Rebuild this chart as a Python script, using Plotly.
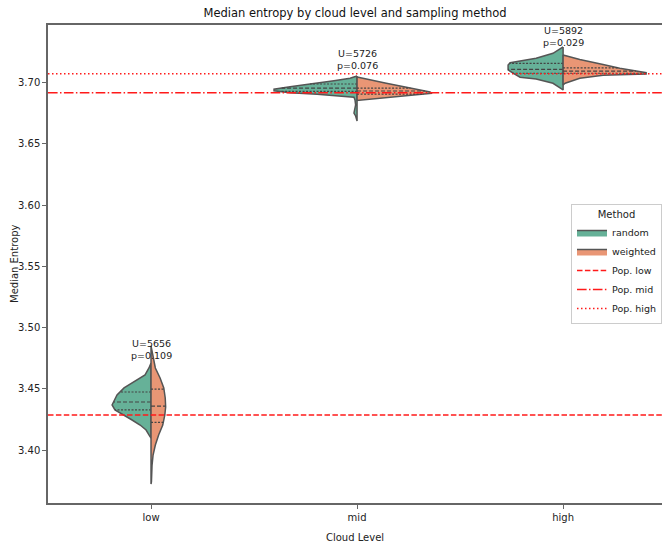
import numpy as np
import plotly.graph_objects as go

# ---------------- data ----------------
categories = ["low", "mid", "high"]
methods = ["random", "weighted"]

# density profiles (entropy value, half-width as fraction of category spacing)
low_random_y = [3.4711, 3.4670, 3.4613, 3.4556, 3.4507, 3.4449, 3.4392, 3.4368, 3.4327, 3.4286, 3.4245, 3.4204, 3.4163, 3.4123, 3.4098]
low_random_w = [0.000, 0.010, 0.029, 0.083, 0.131, 0.165, 0.180, 0.189, 0.175, 0.131, 0.092, 0.053, 0.024, 0.010, 0.000]
low_weighted_y = [3.4850, 3.4833, 3.4752, 3.4670, 3.4588, 3.4507, 3.4425, 3.4351, 3.4286, 3.4204, 3.4123, 3.4041, 3.3959, 3.3877, 3.3739, 3.3722]
low_weighted_w = [0.000, 0.002, 0.010, 0.021, 0.044, 0.062, 0.069, 0.071, 0.067, 0.057, 0.037, 0.021, 0.010, 0.005, 0.002, 0.000]

mid_random_y = [3.7056, 3.7037, 3.7017, 3.7001, 3.6990, 3.6968, 3.6947, 3.6935, 3.6919, 3.6906, 3.6892, 3.6882, 3.6860, 3.6819, 3.6778, 3.6753, 3.6729, 3.6696, 3.6688]
mid_random_w = [0.000, 0.034, 0.112, 0.194, 0.228, 0.325, 0.403, 0.403, 0.325, 0.194, 0.063, 0.015, 0.010, 0.007, 0.012, 0.015, 0.007, 0.002, 0.000]
mid_weighted_y = [3.7047, 3.7023, 3.6998, 3.6974, 3.6949, 3.6925, 3.6914, 3.6900, 3.6884, 3.6868, 3.6855]
mid_weighted_w = [0.000, 0.063, 0.136, 0.209, 0.282, 0.354, 0.364, 0.272, 0.165, 0.053, 0.000]

high_random_y = [3.7293, 3.7282, 3.7241, 3.7200, 3.7181, 3.7164, 3.7145, 3.7105, 3.7078, 3.7045, 3.7031, 3.6996, 3.6958, 3.6941]
high_random_w = [0.000, 0.010, 0.049, 0.131, 0.209, 0.257, 0.267, 0.267, 0.243, 0.209, 0.131, 0.049, 0.015, 0.000]
high_weighted_y = [3.7227, 3.7190, 3.7149, 3.7118, 3.7082, 3.7072, 3.7066, 3.7061, 3.7037, 3.6996, 3.6982]
high_weighted_w = [0.000, 0.081, 0.194, 0.275, 0.403, 0.403, 0.275, 0.194, 0.081, 0.010, 0.000]

# quartiles (Q3, median, Q1)
low_random_q = [3.4474, 3.4392, 3.4327]
low_weighted_q = [3.4498, 3.4359, 3.4225]
mid_random_q = [3.6990, 3.6957, 3.6929]
mid_weighted_q = [3.6957, 3.6933, 3.6908]
high_random_q = [3.7159, 3.7110, 3.7078]
high_weighted_q = [3.7121, 3.7096, 3.7078]

# Mann-Whitney results
u_stats = [5656, 5726, 5892]
p_values = [0.109, 0.076, 0.029]

# population medians
pop_labels = ["Pop. low", "Pop. mid", "Pop. high"]
pop_values = [3.4286, 3.6918, 3.7074]

# --------------- styling ---------------
colors = {"random": "#66b198", "weighted": "#e99675"}
edge = "#555555"
font_family = "DejaVu Sans, Arial, sans-serif"
W, H = 662, 546
ML, MT, MB = 48, 25, 43
x_range = [-0.5, 2.48]
y_range = [3.3567, 3.7472]
label_y = [3.4722, 3.7085, 3.7272]
pop_dash = ["5.5px,2.4px", "9.6px,2.4px,1.5px,2.4px", "1.5px,2.5px"]

profiles = {
    ("low", "random"): (low_random_y, low_random_w, low_random_q),
    ("low", "weighted"): (low_weighted_y, low_weighted_w, low_weighted_q),
    ("mid", "random"): (mid_random_y, mid_random_w, mid_random_q),
    ("mid", "weighted"): (mid_weighted_y, mid_weighted_w, mid_weighted_q),
    ("high", "random"): (high_random_y, high_random_w, high_random_q),
    ("high", "weighted"): (high_weighted_y, high_weighted_w, high_weighted_q),
}

fig = go.Figure()

for m in methods:
    sign = -1 if m == "random" else 1
    for ci, cat in enumerate(categories):
        ys, ws, qs = profiles[(cat, m)]
        ys = np.array(ys)
        ws = np.array(ws)
        xs = ci + sign * ws
        px = list(xs) + [ci, ci]
        py = list(ys) + [ys[-1], ys[0]]
        fig.add_trace(go.Scatter(
            x=px, y=py, mode="lines", fill="toself",
            fillcolor=colors[m], line=dict(color=edge, width=1.5),
            name=m, legendgroup=m, showlegend=(ci == 0),
            hoverinfo="skip",
        ))
        order = np.argsort(ys)
        for qi, q in enumerate(qs):
            w = float(np.interp(q, ys[order], ws[order]))
            fig.add_trace(go.Scatter(
                x=[ci, ci + sign * w], y=[q, q], mode="lines",
                line=dict(color="#444", width=1.2,
                          dash="4px,2px" if qi == 1 else "2px,1.5px"),
                showlegend=False, hoverinfo="skip",
            ))

for lab, val, dash in zip(pop_labels, pop_values, pop_dash):
    fig.add_trace(go.Scatter(
        x=x_range, y=[val, val], mode="lines",
        line=dict(color="#ff1a1a", width=1.6, dash=dash),
        name=lab, hoverinfo="skip",
    ))

for ci, cat in enumerate(categories):
    fig.add_annotation(
        x=ci, y=label_y[ci], xref="x", yref="y",
        text=f"U={u_stats[ci]}<br>p={p_values[ci]:.3f}",
        showarrow=False, yanchor="bottom", xanchor="center",
        font=dict(size=9.5, color="#222", family=font_family),
        borderpad=0,
    )

plot_w = W - ML
plot_h = H - MT - MB

# y-axis title as an annotation (fixed pixel position)
fig.add_annotation(
    text="Median Entropy", xref="paper", yref="paper",
    x=(14 - ML) / plot_w, y=1 - (264 - MT) / plot_h,
    xanchor="center", yanchor="middle", textangle=-90, showarrow=False,
    font=dict(size=10, color="#222", family=font_family),
)

fig.update_layout(
    width=W, height=H, autosize=False,
    margin=dict(l=ML, r=0, t=MT, b=MB, pad=0),
    paper_bgcolor="white", plot_bgcolor="white",
    font=dict(family=font_family, size=10, color="#222"),
    title=dict(text="Median entropy by cloud level and sampling method",
               x=0.5, xref="paper", xanchor="center",
               y=1 - 12.5 / H, yanchor="middle",
               font=dict(size=11.5, color="#111")),
    showlegend=True,
    legend=dict(
        title=dict(text="Method", side="top center", font=dict(size=10)),
        x=1.0, xanchor="right",
        y=1 - (204 - MT) / plot_h, yanchor="top",
        bgcolor="rgba(255,255,255,0.9)", bordercolor="#cccccc", borderwidth=1,
        font=dict(size=9.5), itemwidth=30, tracegroupgap=0,
    ),
)

fig.update_xaxes(
    range=x_range, tickmode="array", tickvals=[0, 1, 2], ticktext=categories,
    showgrid=False, zeroline=False, showline=True, linecolor="#666", linewidth=1.5,
    mirror=True, ticks="outside", ticklen=4, tickcolor="#666", automargin=False,
    title=dict(text="Cloud Level", standoff=12, font=dict(size=10)),
)
fig.update_yaxes(
    range=y_range, tickmode="array",
    tickvals=[3.40, 3.45, 3.50, 3.55, 3.60, 3.65, 3.70],
    tickformat=".2f", automargin=False,
    showgrid=False, zeroline=False, showline=True, linecolor="#666", linewidth=1.5,
    ticks="outside", ticklen=4, tickcolor="#666",
)

fig.write_html(
    "out.html",
    config={"responsive": False, "displayModeBar": False},
    post_script=(
        "document.documentElement.style.overflow='hidden';"
        "document.body.style.margin='0';document.body.style.overflow='hidden';"
    ),
)
